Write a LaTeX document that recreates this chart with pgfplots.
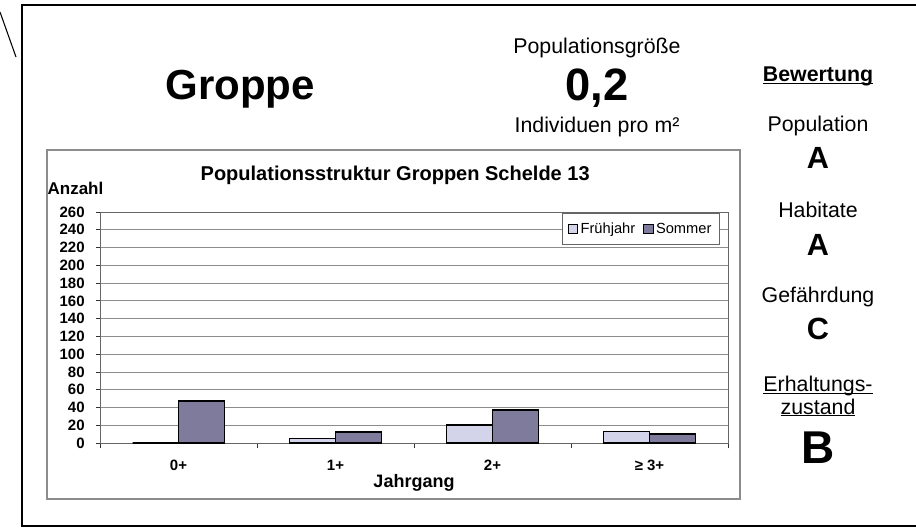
\documentclass[border=0pt]{standalone}
\usepackage{fontspec}
\setmainfont{Liberation Sans}
\usepackage{pgfplots}
\pgfplotsset{compat=1.18}
\definecolor{fj}{HTML}{D3D3EA}
\definecolor{so}{HTML}{7F7B9D}
\newcommand{\fs}[1]{\fontsize{#1}{#1}\selectfont}
\newcommand{\ulx}[1]{\setbox0\hbox{#1}\rlap{\rule[-1.8pt]{\wd0}{0.9pt}}\box0}
\begin{document}
\begin{tikzpicture}[x=0.75pt,y=0.75pt]
\begin{scope}[shift={(-100,-85)}]
\path[use as bounding box] (0,0) rectangle (916,528);
% outer frame and stray line
\draw[line width=1.5pt] (918,523) -- (22,523) -- (22,2) -- (918,2);
\draw[line width=0.8pt] (0,516) -- (16,471);
% chart frame
\draw[black!45, line width=0.8pt] (47,378) rectangle (740,29);
% header texts
\node[anchor=base, font=\bfseries\fs{31.5}] at (240,428) {Groppe};
\node[anchor=base, font=\fs{16}] at (597,474) {Populationsgröße};
\node[anchor=base, font=\bfseries\fs{34}] at (597,427) {0,2};
\node[anchor=base, font=\fs{16}] at (597,395) {Individuen pro m²};
% right column
\node[anchor=base, font=\bfseries\fs{16}] at (818,446) {\ulx{Bewertung}};
\node[anchor=base, font=\fs{16}] at (818,396) {Population};
\node[anchor=base, font=\bfseries\fs{23}] at (818,359) {A};
\node[anchor=base, font=\fs{16}] at (818,310) {Habitate};
\node[anchor=base, font=\bfseries\fs{23}] at (818,272) {A};
\node[anchor=base, font=\fs{16}] at (818,225) {Gefährdung};
\node[anchor=base, font=\bfseries\fs{23}] at (818,188) {C};
\node[anchor=base, font=\fs{16}] at (818,136) {\ulx{Erhaltungs-}};
\node[anchor=base, font=\fs{16}] at (818,114) {\ulx{zustand}};
\node[anchor=base, font=\bfseries\fs{34.5}] at (818,65) {B};
\end{scope}
\begin{axis}[
  scale only axis, width=471pt, height=173.25pt,
  ymin=0, ymax=260, ytick={0,20,...,260},
  xmin=-0.5, xmax=3.5,
  ybar=0pt, bar width=34.5pt,
  xtick={0,1,2,3},
  xticklabels={0+,1+,2+,≥ 3+},
  minor xtick={-0.5,0.5,1.5,2.5,3.5},
  major x tick style={draw=none},
  tick align=outside, tick pos=left,
  major tick length=3pt, minor tick length=4pt,
  tick style={black!80, line width=0.6pt},
  ymajorgrids, grid style={black!45, line width=0.6pt},
  axis line style={black!60, line width=0.7pt},
  /pgf/number format/assume math mode=true,
  tick label style={font=\bfseries\fs{11.25}},
  yticklabel style={xshift=-5pt},
  xticklabel style={yshift=-6pt},
  title={Populationsstruktur Groppen Schelde 13},
  title style={font=\bfseries\fs{15}, at={(axis description cs:0.47,1)}, anchor=center, yshift=21.75pt},
  xlabel={Jahrgang},
  xlabel style={font=\bfseries\fs{13.5}, at={(axis description cs:0.5,0)}, anchor=center, yshift=-30pt},
  ylabel={Anzahl},
  ylabel style={font=\bfseries\fs{12.75}, rotate=-90, at={(axis description cs:0,1)}, anchor=center, xshift=-18.4pt, yshift=18pt},
  legend columns=2,
  legend style={at={(axis description cs:0.987,0.995)}, anchor=north east,
    draw=black!60, line width=0.6pt, font=\fs{11}, inner xsep=4pt, inner ysep=5pt,
    /tikz/every even column/.append style={column sep=4pt}},
]
\addplot[fill=fj, draw=black, line width=1.4pt,
  legend image code/.code={\draw[fill=fj,draw=black,line width=0.6pt] (0pt,-3.5pt) rectangle (7pt,3.5pt);}]
  coordinates {(0,0) (1,5) (2,20) (3,13)};
\addplot[fill=so, draw=black, line width=1.4pt,
  legend image code/.code={\draw[fill=so,draw=black,line width=0.6pt] (0pt,-3.5pt) rectangle (7pt,3.5pt);}]
  coordinates {(0,47) (1,12) (2,37) (3,10)};
\legend{Frühjahr,Sommer}
\end{axis}
\end{tikzpicture}
\end{document}
